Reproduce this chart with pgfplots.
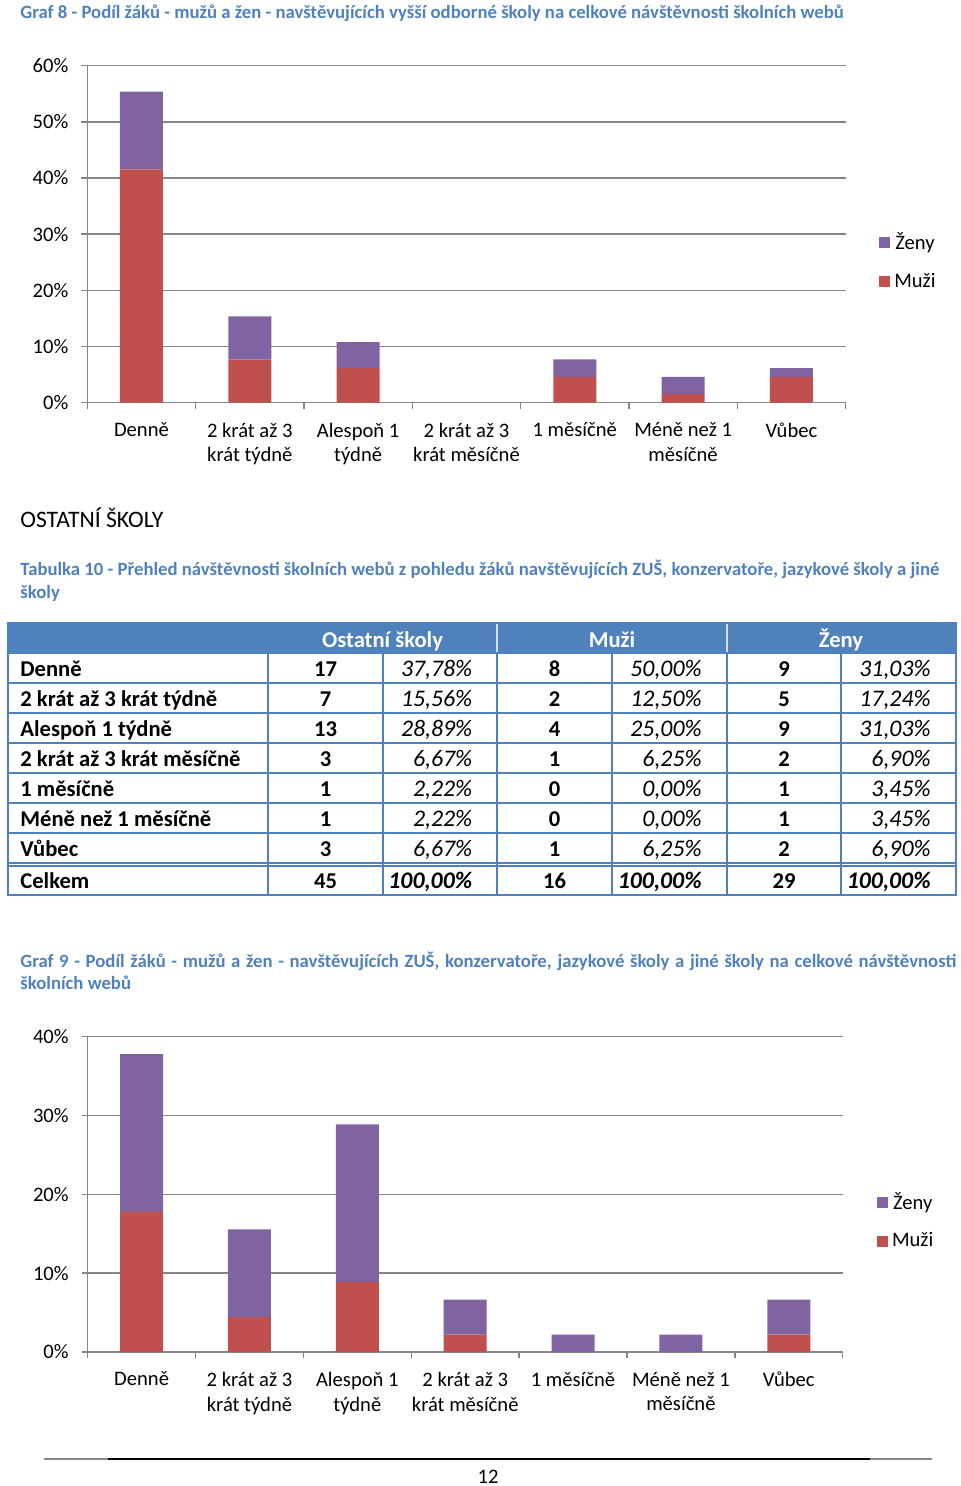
\documentclass[border=0pt]{standalone}
\usepackage{fontspec}
\setmainfont{Carlito}
\usepackage{pgfplots}
\pgfplotsset{compat=1.18}
\definecolor{muzi}{HTML}{C0504D}
\definecolor{zeny}{HTML}{8064A2}
\definecolor{capblue}{HTML}{4F81BD}
\definecolor{gridc}{HTML}{868686}
\definecolor{tabblue}{HTML}{4F81BD}
\newcommand\capf{\fontsize{9.36}{11}\selectfont\bfseries\color{capblue}}
\newcommand\tabf{\fontsize{11.3}{13}\selectfont}
\newcommand\tabpf{\fontsize{11.9}{13}\selectfont}
\pgfplotsset{
 mychart/.style={
  scale only axis,
  ybar stacked,
  bar width=21.5pt,
  xmin=-0.5, xmax=6.5,
  ymin=0,
  axis x line*=bottom, axis y line*=left,
  axis line style={gridc, line width=0.75pt},
  ymajorgrids, grid style={gridc, line width=0.75pt},
  tick style={gridc, line width=0.75pt},
  tick align=outside,
  major tick length=3pt,
  xtick={-0.5,0.5,...,6.5},
  xticklabels={},
  extra x ticks={0,1,2,3,4,5,6},
  extra x tick labels={Denně,{2 krát až 3\\krát týdně},{Alespoň 1\\týdně},{2 krát až 3\\krát měsíčně},1 měsíčně,{Méně než 1\\měsíčně},Vůbec},
  extra x tick style={major tick length=0pt, grid=none},
  xticklabel style={align=center, font=\fontsize{10.3}{12.4}\selectfont, anchor=north, yshift=-6.5pt},
  yticklabel={\pgfmathprintnumber[assume math mode=true]{\tick}\%},
  yticklabel style={font=\fontsize{10.3}{12}\selectfont, xshift=-3pt},
  legend image code/.code={\fill[##1] (0pt,-2.75pt) rectangle (5.5pt,2.75pt);},
  reverse legend,
  legend style={draw=none, fill=none, font=\fontsize{10.3}{12}\selectfont, row sep=6pt, anchor=west},
 }
}
\newcommand\trow[8]{%
 \node[anchor=base west,inner sep=0pt,font=\tabf\bfseries] at (10pt,#1) {#2};
 \node[anchor=base,inner sep=0pt,font=\tabf\bfseries] at (162.75pt,#1) {#3};
 \node[anchor=base east,inner sep=0pt,font=\tabpf\itshape] at (236.3pt,#1) {#4};
 \node[anchor=base,inner sep=0pt,font=\tabf\bfseries] at (277.25pt,#1) {#5};
 \node[anchor=base east,inner sep=0pt,font=\tabpf\itshape] at (351pt,#1) {#6};
 \node[anchor=base,inner sep=0pt,font=\tabf\bfseries] at (392pt,#1) {#7};
 \node[anchor=base east,inner sep=0pt,font=\tabpf\itshape] at (465.5pt,#1) {#8};
}
\begin{document}
\begin{tikzpicture}
\path[use as bounding box] (0pt,0pt) rectangle (480pt,-743pt);
% captions
\node[anchor=base west, inner sep=0pt, font=\capf] at (10pt,-9.2pt) {Graf 8 - Podíl žáků - mužů a žen - navštěvujících vyšší odborné školy na celkové návštěvnosti školních webů};
% chart 1
\begin{axis}[mychart, at={(43.65pt,-201.35pt)}, anchor=south west,
  width=379.15pt, height=168.5pt, ymax=60, ytick={0,10,...,60},
  legend style={at={(1.036,0.419)}}]
\addplot[fill=muzi, draw=none] coordinates {(0,41.54) (1,7.69) (2,6.15) (3,0) (4,4.62) (5,1.54) (6,4.62)};
\addlegendentry{Muži}
\addplot[fill=zeny, draw=none] coordinates {(0,13.85) (1,7.69) (2,4.62) (3,0) (4,3.08) (5,3.08) (6,1.54)};
\addlegendentry{Ženy}
\end{axis}
\node[anchor=base west, inner sep=0pt, font=\fontsize{11.8}{14}\selectfont] at (10pt,-263.5pt) {OSTATNÍ ŠKOLY};
\node[anchor=base west, inner sep=0pt, font=\capf] at (10pt,-287.5pt) {\makebox[459.5pt][s]{Tabulka 10 - Přehled návštěvnosti školních webů z pohledu žáků navštěvujících ZUŠ, konzervatoře, jazykové školy a jiné}};
\node[anchor=base west, inner sep=0pt, font=\capf] at (10pt,-299pt) {školy};
% table
\fill[tabblue] (4pt,-311.5pt) rectangle (478pt,-326.5pt);
\draw[white!75!tabblue, line width=0.6pt] (248.5pt,-311.5pt) -- (248.5pt,-326.5pt) (363.5pt,-311.5pt) -- (363.5pt,-326.5pt);
\begin{scope}[tabblue, line width=0.9pt]
\foreach \y in {-326.5,-341.5,-356.5,-371.5,-386.5,-401.5,-416.5,-431.5,-433,-447.5}
  \draw (4pt,\y pt) -- (478pt,\y pt);
\foreach \x in {134,191.5,248.5,306,363.5,420.5}
  \draw (\x pt,-326.5pt) -- (\x pt,-447.5pt);
\draw (4pt,-311.5pt) rectangle (478pt,-447.5pt);
\end{scope}
\node[anchor=base,inner sep=0pt,font=\tabf\bfseries,text=white] at (191.25pt,-323.5pt) {Ostatní školy};
\node[anchor=base,inner sep=0pt,font=\tabf\bfseries,text=white] at (306pt,-323.5pt) {Muži};
\node[anchor=base,inner sep=0pt,font=\tabf\bfseries,text=white] at (420.5pt,-323.5pt) {Ženy};
\trow{-338pt}{Denně}{17}{37,78\%}{8}{50,00\%}{9}{31,03\%}
\trow{-353pt}{2 krát až 3 krát týdně}{7}{15,56\%}{2}{12,50\%}{5}{17,24\%}
\trow{-368pt}{Alespoň 1 týdně}{13}{28,89\%}{4}{25,00\%}{9}{31,03\%}
\trow{-383pt}{2 krát až 3 krát měsíčně}{3}{6,67\%}{1}{6,25\%}{2}{6,90\%}
\trow{-398pt}{1 měsíčně}{1}{2,22\%}{0}{0,00\%}{1}{3,45\%}
\trow{-413pt}{Méně než 1 měsíčně}{1}{2,22\%}{0}{0,00\%}{1}{3,45\%}
\trow{-428pt}{Vůbec}{3}{6,67\%}{1}{6,25\%}{2}{6,90\%}
\trow{-444pt}{Celkem}{45}{\textbf{100,00\%}}{16}{\textbf{100,00\%}}{29}{\textbf{100,00\%}}
% caption 2
\node[anchor=base west, inner sep=0pt, font=\capf] at (10pt,-483.5pt) {\makebox[468pt][s]{Graf 9 - Podíl žáků - mužů a žen - navštěvujících ZUŠ, konzervatoře, jazykové školy a jiné školy na celkové návštěvnosti}};
\node[anchor=base west, inner sep=0pt, font=\capf] at (10pt,-494.5pt) {školních webů};
% chart 2
\begin{axis}[mychart, at={(43.85pt,-676pt)}, anchor=south west,
  width=377.5pt, height=157.65pt, ymax=40, ytick={0,10,...,40},
  legend style={at={(1.037,0.414)}}]
\addplot[fill=muzi, draw=none] coordinates {(0,17.78) (1,4.44) (2,8.89) (3,2.22) (4,0) (5,0) (6,2.22)};
\addlegendentry{Muži}
\addplot[fill=zeny, draw=none] coordinates {(0,20.00) (1,11.11) (2,20.00) (3,4.44) (4,2.22) (5,2.22) (6,4.44)};
\addlegendentry{Ženy}
\end{axis}
% footer
\draw[gridc, line width=0.6pt] (22pt,-729.5pt) -- (466pt,-729.5pt);
\draw[black, line width=0.9pt] (54pt,-729.5pt) -- (435pt,-729.5pt);
\node[anchor=base, inner sep=0pt, font=\fontsize{10.3}{12}\selectfont] at (244pt,-741.5pt) {12};
\end{tikzpicture}
\end{document}
